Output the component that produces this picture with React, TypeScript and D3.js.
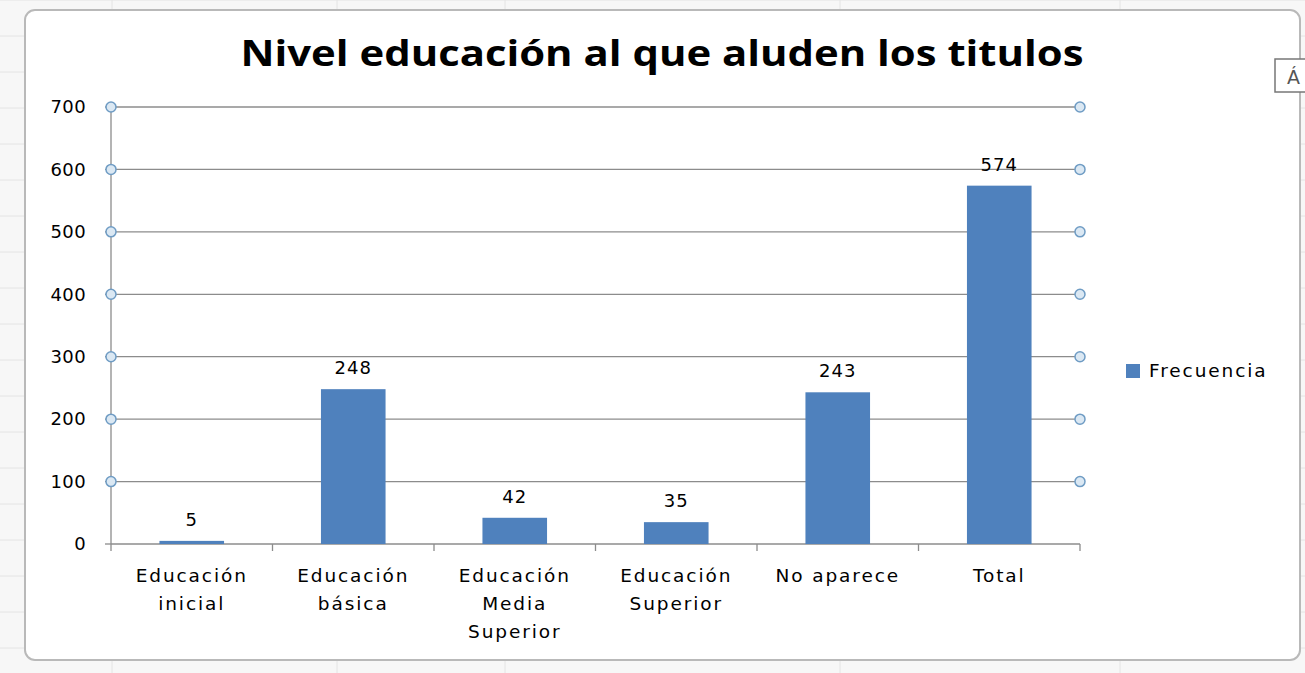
import React from "react";
import * as d3 from "d3";

const categories = [
  ["Educación", "inicial"],
  ["Educación", "básica"],
  ["Educación", "Media", "Superior"],
  ["Educación", "Superior"],
  ["No aparece"],
  ["Total"],
];
const values = [5, 248, 42, 35, 243, 574];
const yTicks = [0, 100, 200, 300, 400, 500, 600, 700];
const seriesName = "Frecuencia";
const title = "Nivel educación al que aluden los titulos";

export default function App() {
  const W = 1305, H = 673;
  const left = 111, right = 1080, top = 107, bottom = 544;
  const x = d3.scaleBand<number>().domain(values.map((_, i) => i)).range([left, right]).paddingInner(0).paddingOuter(0);
  const y = d3.scaleLinear().domain([0, 700]).range([bottom, top]);
  const bw = x.bandwidth() * 0.4;
  const grid = "#8c8c8c";
  const barColor = "#4f81bd";
  const font = "'DejaVu Sans', Verdana, sans-serif";
  const handles = yTicks.filter((t) => t > 0);
  return (
    <svg width={W} height={H} style={{ position: "absolute", left: 0, top: 0, background: "#fff" }}>
      {/* spreadsheet background */}
      <rect x={0} y={0} width={W} height={H} fill="#f7f7f7" />
      {d3.range(0, H, 36).map((yy) => (
        <line key={"h" + yy} x1={0} x2={W} y1={yy} y2={yy} stroke="#e4e4e4" />
      ))}
      {[112, 337, 505, 840, 1120].map((xx) => (
        <line key={"v" + xx} x1={xx} x2={xx} y1={0} y2={H} stroke="#e4e4e4" />
      ))}
      <rect x={25} y={10} width={1275} height={650} rx={10} fill="#fff" stroke="#b9b9b9" strokeWidth={2} />
      {/* title */}
      <text x={662} y={66} textAnchor="middle" fontFamily="'Open Sans', Lato, sans-serif" fontWeight="bold" fontSize={35} fill="#000" textLength={843} lengthAdjust="spacingAndGlyphs">
        {title}
      </text>
      {/* gridlines */}
      {yTicks.map((t) => (
        <line key={t} x1={left} x2={right} y1={y(t)} y2={y(t)} stroke={grid} strokeWidth={1.3} />
      ))}
      {/* y axis */}
      <line x1={left} x2={left} y1={top} y2={bottom} stroke={grid} strokeWidth={1.3} />
      {yTicks.map((t) => (
        <g key={"yt" + t}>
          <line x1={left - 6} x2={left} y1={y(t)} y2={y(t)} stroke={grid} strokeWidth={1.3} />
          <text x={left - 25} y={y(t)} dy="0.35em" textAnchor="end" fontFamily={font} fontSize={18} letterSpacing={0.4} fill="#000">
            {t}
          </text>
        </g>
      ))}
      {/* x axis ticks */}
      {d3.range(values.length + 1).map((i) => {
        const xx = left + i * x.bandwidth();
        return <line key={"xt" + i} x1={xx} x2={xx} y1={bottom} y2={bottom + 7} stroke={grid} strokeWidth={1.3} />;
      })}
      {/* bars */}
      {values.map((v, i) => {
        const cx = (x(i) as number) + x.bandwidth() / 2;
        return (
          <g key={"b" + i}>
            <rect x={cx - bw / 2} y={y(v)} width={bw} height={bottom - y(v)} fill={barColor} />
            <text x={cx} y={y(v) - 15} textAnchor="middle" fontFamily={font} fontSize={18} letterSpacing={1} fill="#000">
              {v}
            </text>
            {categories[i].map((line, j) => (
              <text key={j} x={cx} y={582 + j * 28} textAnchor="middle" fontFamily={font} fontSize={18.5} letterSpacing={1.9} fill="#000">
                {line}
              </text>
            ))}
          </g>
        );
      })}
      {/* selection handles */}
      {handles.map((t) => (
        <g key={"hd" + t}>
          <circle cx={left} cy={y(t)} r={5} fill="#dbe8f3" stroke="#6f9cc4" strokeWidth={1.5} />
          <circle cx={right} cy={y(t)} r={5} fill="#dbe8f3" stroke="#6f9cc4" strokeWidth={1.5} />
        </g>
      ))}
      {/* legend */}
      <rect x={1126} y={364} width={14} height={14} fill={barColor} />
      <text x={1149} y={377} fontFamily={font} fontSize={18.5} letterSpacing={1.9} fill="#000">
        {seriesName}
      </text>
      {/* tooltip box */}
      <rect x={1275} y={59} width={40} height={33} fill="#fff" stroke="#777" strokeWidth={1.5} />
      <text x={1287} y={84} fontFamily={font} fontSize={19} fill="#555">Á</text>
    </svg>
  );
}
